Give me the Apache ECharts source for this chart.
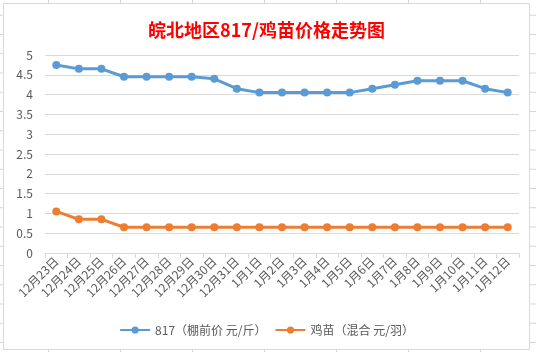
<!DOCTYPE html>
<html>
<head>
<meta charset="utf-8">
<script src="https://cdn.jsdelivr.net/npm/echarts@6/dist/echarts.min.js"></script>
<style>
  body {
    margin: 0;
    width: 536px;
    height: 352px;
    background-color: #fff;
    background-image:
      linear-gradient(to right, #d4d4d4 1px, transparent 1px),
      linear-gradient(to bottom, #d4d4d4 1px, transparent 1px);
    background-size: 72px 19.25px;
    background-position: 48px 14.75px;
    position: relative;
    overflow: hidden;
  }
  #chart {
    position: absolute;
    left: 3px;
    top: 3px;
    width: 525px;
    height: 345px;
    border: 1px solid #d9d9d9;
    background: #fff;
  }
</style>
</head>
<body>
<div id="chart"></div>
<script>
// 日期
var dates = ["12月23日", "12月24日", "12月25日", "12月26日", "12月27日", "12月28日", "12月29日",
  "12月30日", "12月31日", "1月1日", "1月2日", "1月3日", "1月4日", "1月5日", "1月6日",
  "1月7日", "1月8日", "1月9日", "1月10日", "1月11日", "1月12日"];
// 817 棚前价 元/斤
var price817 = [4.75, 4.65, 4.65, 4.45, 4.45, 4.45, 4.45, 4.4, 4.15, 4.05, 4.05,
  4.05, 4.05, 4.05, 4.15, 4.25, 4.35, 4.35, 4.35, 4.15, 4.05];
// 鸡苗 混合 元/羽
var chickPrice = [1.05, 0.85, 0.85, 0.65, 0.65, 0.65, 0.65, 0.65, 0.65, 0.65, 0.65,
  0.65, 0.65, 0.65, 0.65, 0.65, 0.65, 0.65, 0.65, 0.65, 0.65];
var yTicks = [0, 0.5, 1, 1.5, 2, 2.5, 3, 3.5, 4, 4.5, 5];

var names = ["817（棚前价 元/斤）", "鸡苗（混合 元/羽）"];
var font = "'Noto Sans CJK SC', 'Microsoft YaHei', sans-serif";

var myChart = echarts.init(document.getElementById("chart"));
var option = {
  animation: false,
  textStyle: { fontFamily: font },
  title: {
    text: "皖北地区817/鸡苗价格走势图",
    left: "center",
    top: 12,
    textStyle: { color: "#ff0000", fontSize: 18, fontWeight: "bold", fontFamily: font }
  },
  legend: {
    bottom: 8,
    left: "center",
    itemWidth: 30,
    itemHeight: 9,
    itemGap: 8,
    textStyle: { color: "#595959", fontSize: 12 },
    data: names
  },
  grid: { left: 41, right: 10, top: 51, bottom: 96 },
  xAxis: {
    type: "category",
    data: dates,
    boundaryGap: true,
    axisLine: { lineStyle: { color: "#d9d9d9", width: 1 } },
    axisTick: { show: true, alignWithLabel: false, length: 5, lineStyle: { color: "#d9d9d9" } },
    axisLabel: { rotate: 45, interval: 0, color: "#595959", fontSize: 12, margin: 6 }
  },
  yAxis: {
    type: "value",
    min: yTicks[0],
    max: yTicks[yTicks.length - 1],
    interval: 0.5,
    axisLine: { show: false },
    axisTick: { show: false },
    axisLabel: { color: "#595959", fontSize: 12, margin: 12 },
    splitLine: { lineStyle: { color: "#d9d9d9", width: 1 } }
  },
  series: [
    {
      name: names[0],
      type: "line",
      data: price817,
      symbol: "circle",
      symbolSize: 8,
      lineStyle: { color: "#5b9bd5", width: 3 },
      itemStyle: { color: "#5b9bd5" }
    },
    {
      name: names[1],
      type: "line",
      data: chickPrice,
      symbol: "circle",
      symbolSize: 8,
      lineStyle: { color: "#ed7d31", width: 3 },
      itemStyle: { color: "#ed7d31" }
    }
  ]
};
myChart.setOption(option);
</script>
</body>
</html>
